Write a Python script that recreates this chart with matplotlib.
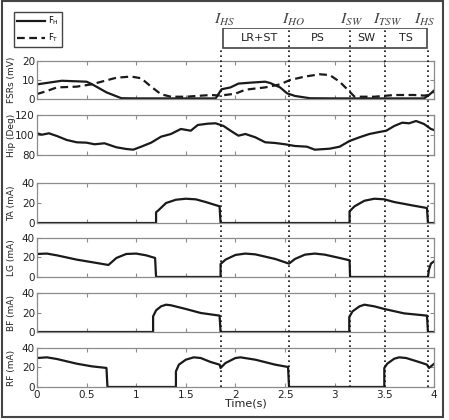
import matplotlib
matplotlib.use("Agg")
import matplotlib.pyplot as plt
from matplotlib.lines import Line2D
from matplotlib.patches import Rectangle

# --- data ---
fh_t = [0, 0.25, 0.5, 0.55, 0.7, 0.85, 1.0, 1.5, 1.8, 1.86, 1.95, 2.03, 2.15, 2.3, 2.35,
        2.45, 2.52, 2.6, 2.75, 3.0, 3.5, 3.9, 3.95, 4.0]
fh_v = [7.7, 9.6, 9.1, 7.9, 3.5, 0.4, 0.3, 0.3, 0.3, 5.1, 6.1, 8.1, 8.6, 9.1, 8.4,
        6.1, 3.0, 1.6, 0.4, 0.3, 0.3, 0.3, 2.1, 4.4]
ft_t = [0, 0.1, 0.2, 0.4, 0.55, 0.65, 0.8, 0.95, 1.05, 1.15, 1.25, 1.35, 1.5, 1.75, 1.85,
        2.0, 2.1, 2.3, 2.45, 2.55, 2.7, 2.85, 2.95, 3.05, 3.15, 3.2, 3.4, 3.6, 3.8, 3.9, 3.95, 4.0]
ft_v = [2.6, 4.2, 6.1, 6.5, 7.7, 9.1, 11.2, 11.8, 10.9, 6.5, 2.5, 1.2, 1.2, 2.1, 1.8,
        2.8, 4.9, 6.1, 7.7, 10.0, 11.8, 13.0, 12.6, 9.1, 3.9, 1.2, 1.2, 2.1, 2.1, 1.8, 2.1, 3.9]

hip_t = [0, 0.05, 0.12, 0.2, 0.3, 0.4, 0.5, 0.58, 0.68, 0.8, 0.9, 0.97, 1.05, 1.15, 1.25,
         1.35, 1.45, 1.55, 1.62, 1.72, 1.8, 1.88, 1.95, 2.03, 2.1, 2.2, 2.3, 2.4, 2.5, 2.6,
         2.72, 2.8, 2.95, 3.05, 3.15, 3.25, 3.35, 3.45, 3.52, 3.6, 3.68, 3.75, 3.82, 3.9,
         3.97, 4.0]
hip_v = [101.7, 100.3, 101.7, 99, 95, 92.7, 92.3, 90.7, 91.7, 87.7, 86, 85.3, 88.3, 92.3, 98.3,
         101, 106, 104.3, 110, 111.3, 111.7, 109, 104.3, 99.3, 101, 97.7, 92.7, 92, 90.7, 89,
         88.3, 85.3, 86.3, 88.3, 94, 97.7, 101, 103, 104.3, 109, 112.3, 111.7, 114, 111,
         106, 105]

ta_t = [0, 1.2, 1.2, 1.23, 1.3, 1.4, 1.5, 1.6, 1.7, 1.84, 1.85, 3.15, 3.15, 3.2, 3.3,
        3.4, 3.5, 3.6, 3.8, 3.93, 3.94, 4.0]
ta_v = [0, 0, 10.7, 13.3, 20, 23.3, 24.3, 23.7, 21, 16.7, 0, 0, 11.7, 16.7, 22.3,
        24.3, 23.7, 21, 17.3, 15, 0, 0]

lg_t = [0, 0.1, 0.2, 0.4, 0.6, 0.72, 0.8, 0.9, 1.0, 1.1, 1.19, 1.2, 1.85, 1.85, 1.9,
        2.0, 2.1, 2.2, 2.4, 2.54, 2.6, 2.7, 2.8, 2.9, 3.05, 3.15, 3.155, 3.94, 3.95,
        3.97, 4.0]
lg_v = [23.6, 24, 22.2, 17.8, 14.4, 12.3, 19.5, 23.6, 24, 22.2, 19.5, 0, 0, 13.3, 17.8,
        22.6, 24, 23.2, 18.5, 13.7, 18.5, 22.9, 24, 22.9, 19.5, 17.1, 0, 0, 7.5,
        13.7, 16]

bf_t = [0, 1.17, 1.17, 1.2, 1.25, 1.3, 1.35, 1.5, 1.65, 1.84, 1.85, 3.147, 3.147, 3.18,
        3.25, 3.3, 3.4, 3.5, 3.7, 3.93, 3.94, 4.0]
bf_v = [0, 0, 16, 22.2, 26.3, 28, 27.4, 23.6, 19.5, 16.8, 0, 0, 15.4, 21.2,
        26.3, 28, 26.3, 23.6, 19.1, 16.8, 0, 0]

rf_t = [0, 0.1, 0.2, 0.4, 0.55, 0.7, 0.71, 1.4, 1.4, 1.43, 1.5, 1.58, 1.65, 1.75, 1.84,
        1.85, 1.9, 2.0, 2.05, 2.2, 2.4, 2.53, 2.54, 3.5, 3.5, 3.53, 3.6, 3.65, 3.72,
        3.85, 3.93, 3.95, 4.0]
rf_v = [29.7, 30.4, 28.7, 23.9, 21.2, 19.5, 0, 0, 16, 22.9, 28, 30.4, 29.7, 25.6, 22.9,
        19.5, 24.6, 29.7, 30.4, 28, 22.9, 20.5, 0, 0, 19.5, 23.9, 29, 30.4, 29.7,
        25.6, 22.9, 19.5, 23.6]

events = [1.85, 2.54, 3.155, 3.51, 3.94]
event_labels = [r'$I_{HS}$', r'$I_{HO}$', r'$I_{SW}$', r'$I_{TSW}$', r'$I_{HS}$']
event_label_x = [1.89, 2.59, 3.17, 3.53, 3.91]
phases = ['LR+ST', 'PS', 'SW', 'TS']
phase_x = [2.24, 2.83, 3.32, 3.72]

ylabels = ['FSRs (mV)', 'Hip (Deg)', 'TA (mA)', 'LG (mA)', 'BF (mA)', 'RF (mA)']
yticks = [[0, 10, 20], [80, 100, 120], [0, 20, 40], [0, 20, 40], [0, 20, 40], [0, 20, 40]]
xticks = [0, 0.5, 1, 1.5, 2, 2.5, 3, 3.5, 4]
xticklabels = ['0', '0.5', '1', '1.5', '2', '2.5', '3', '3.5', '4']

# --- style ---
plt.rcParams.update({
    'font.family': 'DejaVu Sans',
    'font.size': 7.5,
    'mathtext.fontset': 'stix',
    'axes.edgecolor': '#8c8c8c',
    'axes.linewidth': 0.9,
    'xtick.direction': 'in',
    'ytick.direction': 'in',
    'xtick.top': True,
    'ytick.right': True,
    'xtick.color': '#8c8c8c',
    'ytick.color': '#8c8c8c',
    'xtick.labelcolor': '#222222',
    'ytick.labelcolor': '#222222',
    'xtick.major.size': 3,
    'ytick.major.size': 3,
    'xtick.major.pad': 2,
    'ytick.major.pad': 1.5,
})

LINE = '#1a1a1a'
LW = 1.6

fig = plt.figure(figsize=(4.49, 4.20), dpi=100)

# panel positions (bottom, height) in figure fraction
left, width = 0.0824, 0.884
panel_pos = [(0.7643, 0.0905), (0.631, 0.0952), (0.469, 0.0952),
             (0.3405, 0.0929), (0.2095, 0.0929), (0.0786, 0.0929)]

axes = []
for (b, h) in panel_pos:
    axes.append(fig.add_axes([left, b, width, h]))

axes[0].plot(fh_t, fh_v, color=LINE, lw=LW)
axes[0].plot(ft_t, ft_v, color=LINE, lw=LW, ls=(0, (3.5, 2)))
axes[1].plot(hip_t, hip_v, color=LINE, lw=LW)
axes[2].plot(ta_t, ta_v, color=LINE, lw=LW)
axes[3].plot(lg_t, lg_v, color=LINE, lw=LW)
axes[4].plot(bf_t, bf_v, color=LINE, lw=LW)
axes[5].plot(rf_t, rf_v, color=LINE, lw=LW)

for i, ax in enumerate(axes):
    ax.set_xlim(0, 4)
    ax.set_ylim(yticks[i][0], yticks[i][-1])
    ax.set_yticks(yticks[i])
    ax.set_xticks(xticks)
    ax.set_ylabel(ylabels[i], fontsize=6.5, color='#222222')
    ax.yaxis.set_label_coords(-0.052, 0.5)
    if i < len(axes) - 1:
        ax.set_xticklabels([])
    else:
        ax.set_xticklabels(xticklabels)

axes[-1].set_xlabel('Time(s)', fontsize=8, color='#222222')
axes[-1].xaxis.set_label_coords(0.527, -0.30)

# overlay for event lines and phase box
ov = fig.add_axes([left, 0.0786, width, 0.9333 - 0.0786])
ov.set_xlim(0, 4)
ov.set_ylim(0, 1)
ov.axis('off')
box_bottom = 0.944
for k, t in enumerate(events):
    top = 1.0 if 0 < k < len(events) - 1 else box_bottom
    ov.plot([t, t], [0, top], color='#111111', lw=1.2, ls=(0, (1, 2)))
ov.add_patch(Rectangle((1.87, box_bottom), 3.93 - 1.87, 1.0 - box_bottom,
                       fill=False, edgecolor='#444444', lw=1.2))
for x, s in zip(phase_x, phases):
    ov.text(x, (1.0 + box_bottom) / 2, s, ha='center', va='center', fontsize=8, color='#222222')
for x, s in zip(event_label_x, event_labels):
    ov.text(x, 1.022, s, ha='center', va='center', fontsize=11.5, color='#444444', clip_on=False)

# legend in the top-left corner
handles = [Line2D([], [], color=LINE, lw=LW),
           Line2D([], [], color=LINE, lw=LW, ls=(0, (3.5, 2)))]
fig.legend(handles, [r'F$_\mathregular{H}$', r'F$_\mathregular{T}$'], loc='upper left',
           bbox_to_anchor=(0.022, 0.982), fontsize=6, handlelength=3.4, handletextpad=0.3,
           borderpad=0.35, labelspacing=0.6, fancybox=False, edgecolor='#444444',
           framealpha=1)

# outer frame
fig.add_artist(Rectangle((0.0045, 0.007), 0.982, 0.99, transform=fig.transFigure,
                         fill=False, edgecolor='#444444', lw=1.5))

fig.savefig('out.png', dpi=100)
